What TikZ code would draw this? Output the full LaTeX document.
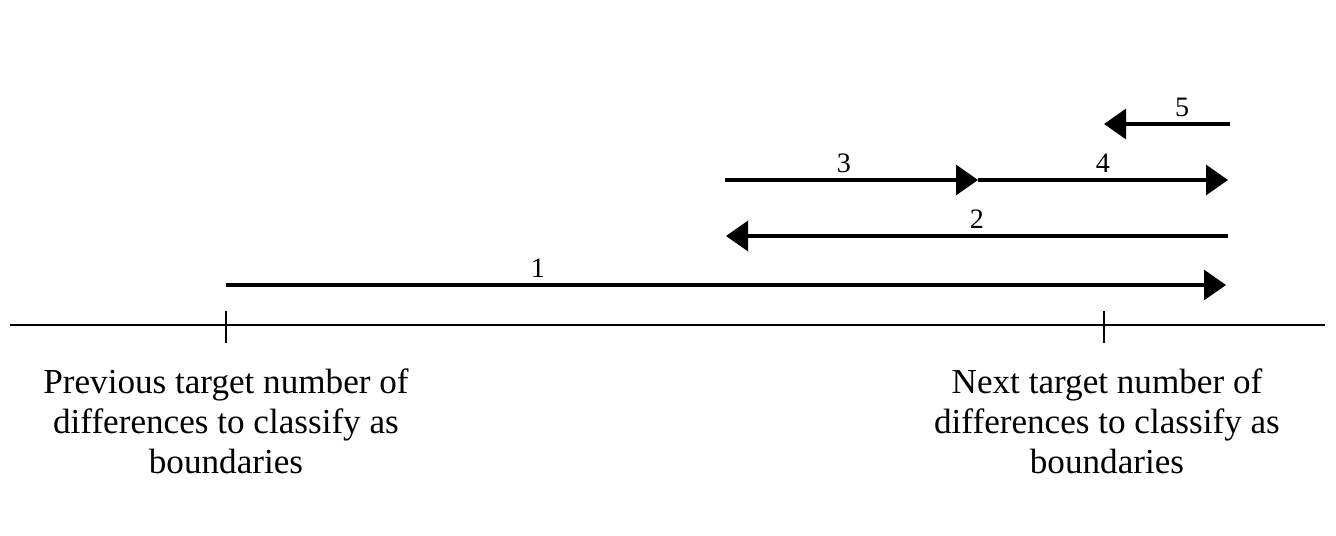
\documentclass[tikz,border=0pt]{standalone}
\usepackage{fontspec}
\setmainfont{Liberation Serif}
\usetikzlibrary{arrows.meta}
\tikzset{
    interval/.style={line width=1.8pt, -{Triangle[length=0.44cm, width=0.6cm]}},
    step label/.style={above, font=\fontsize{16}{18}\selectfont},
    boundary text/.style={align=center, font=\fontsize{20}{22.7}\selectfont}
}
\begin{document}
\begin{tikzpicture}[x=0.02cm, y=-0.02cm]
\useasboundingbox (0,0) rectangle (1336,536);
% number line with the two targets
\coordinate (axis west) at (10,325);
\coordinate (axis east) at (1325,325);
\coordinate (prev) at (226,325);
\coordinate (next) at (1104,325);
\draw[line width=1.4pt] (axis west) -- (axis east);
\foreach \t in {prev, next}
    \draw[line width=1.1pt] ([yshift=0.28cm]\t) -- ([yshift=-0.36cm]\t);
% steps
\coordinate (s1 start) at (226,285);
\coordinate (s1 end) at (1226,285);
\coordinate (s2 start) at (1228,236);
\coordinate (s2 end) at (726,236);
\coordinate (s3 start) at (725,180);
\coordinate (s3 end) at (978,180);
\coordinate (s4 end) at (1228,180);
\coordinate (s5 start) at (1230,124);
\coordinate (s5 end) at (1104,124);
\draw[interval] (s1 start) -- (s1 end) node[step label, pos=0.312] {1};
\draw[interval] (s2 start) -- (s2 end) node[step label, pos=0.5] {2};
\draw[interval] (s3 start) -- (s3 end) node[step label, pos=0.47] {3};
\draw[interval] (s3 end) -- (s4 end) node[step label, pos=0.5] {4};
\draw[interval] (s5 start) -- (s5 end) node[step label, pos=0.38] {5};
% captions
\node[boundary text, below=0.75cm] (prev text) at (prev)
    {Previous target number of\\differences to classify as\\boundaries};
\node[boundary text, below=0.75cm, xshift=0.06cm] (next text) at (next)
    {Next target number of\\differences to classify as\\boundaries};
\end{tikzpicture}
\end{document}
